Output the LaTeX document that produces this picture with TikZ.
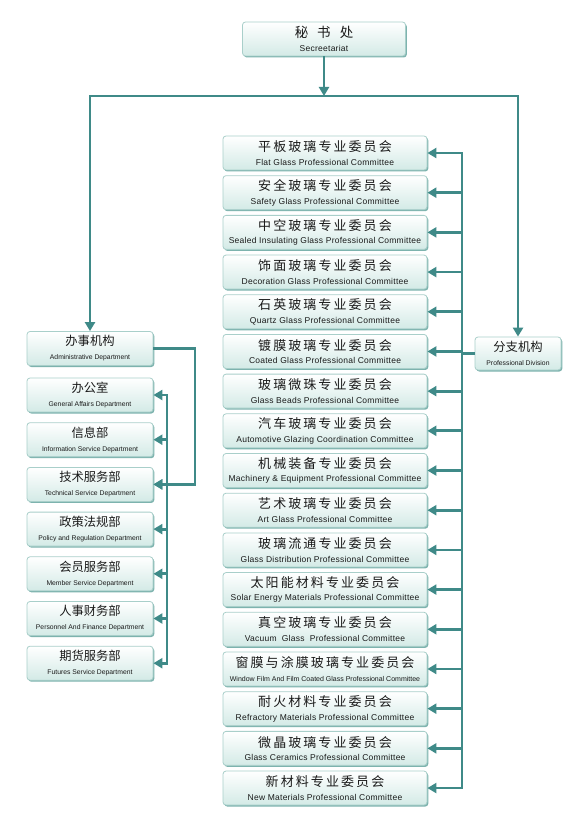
\documentclass[tikz,border=0pt]{standalone}
\usepackage{fontspec}
\setmainfont{Liberation Sans}
\newfontfamily\ensp[LetterSpace=3]{Liberation Sans}
\newfontfamily\cjk{Noto Sans CJK SC}
\newfontfamily\cjksp[LetterSpace=16]{Noto Sans CJK SC}
\usetikzlibrary{arrows.meta,shadows}
\definecolor{linec}{HTML}{3F8A88}
\definecolor{boxline}{HTML}{A9CFCA}
\definecolor{boxbot}{HTML}{D3EAE6}
\definecolor{boxshadow}{HTML}{7DB3AE}
\definecolor{txt}{HTML}{1A1A1A}
\newcommand\comtext[2]{{\cjksp\fontsize{13}{13}\selectfont #1}\\[1.5pt]{\ensp\fontsize{8.5}{9}\selectfont #2}}
\newcommand\deptext[2]{{\cjk\fontsize{12.3}{12}\selectfont #1}\\[2pt]{\fontsize{6.8}{7}\selectfont #2}}
\tikzset{
  box/.style={draw=boxline, line width=0.8pt, rounded corners=3pt, top color=white, bottom color=boxbot,
    inner sep=0pt, align=center, text=txt,
    drop shadow={shadow xshift=1.3pt, shadow yshift=-1.5pt, fill=boxshadow, opacity=1}},
  comm/.style={box, minimum width=204pt, minimum height=34pt},
  dept/.style={box, minimum width=126pt, minimum height=34pt},
  conn/.style={draw=linec, line width=2.8pt},
  arr/.style={conn, -{Triangle[length=9pt,width=10pt]}},
}
\begin{document}
\begin{tikzpicture}[x=1pt,y=-1pt]
\fill[white] (0,0) rectangle (584,826);
\useasboundingbox (0,0) rectangle (584,826);

% top
\node[box, minimum width=163pt, minimum height=34pt] (sec) at (324,39)
  {{\cjk\fontsize{13.5}{13}\selectfont 秘\hspace{9pt}书\hspace{9pt}处}\\[2pt]{\ensp\fontsize{8.5}{8}\selectfont Secreetariat}};
\coordinate (hl) at (90,96);
\coordinate (hr) at (518,96);

% left column
\node[dept] (adm) at (90,348.5) {\deptext{办事机构}{Administrative Department}};
\node[dept] (d1) at (90,395) {\deptext{办公室}{General Affairs Department}};
\node[dept] (d2) at (90,439.7) {\deptext{信息部}{Information Service Department}};
\node[dept] (d3) at (90,484.4) {\deptext{技术服务部}{Technical Service Department}};
\node[dept] (d4) at (90,529.1) {\deptext{政策法规部}{Policy and Regulation Department}};
\node[dept] (d5) at (90,573.8) {\deptext{会员服务部}{Member Service Department}};
\node[dept] (d6) at (90,618.5) {\deptext{人事财务部}{Personnel And Finance Department}};
\node[dept] (d7) at (90,663.2) {\deptext{期货服务部}{Futures Service Department}};

% professional division
\node[box, minimum width=86pt, minimum height=33pt] (pd) at (518,353.5) {\deptext{分支机构}{Professional Division}};

% committees
\foreach \cn/\en [count=\i from 0] in {
  平板玻璃专业委员会/Flat Glass Professional Committee,
  安全玻璃专业委员会/Safety Glass Professional Committee,
  中空玻璃专业委员会/Sealed Insulating Glass Professional Committee,
  饰面玻璃专业委员会/Decoration Glass Professional Committee,
  石英玻璃专业委员会/Quartz Glass Professional Committee,
  镀膜玻璃专业委员会/Coated Glass Professional Committee,
  玻璃微珠专业委员会/Glass Beads Professional Committee,
  汽车玻璃专业委员会/Automotive Glazing Coordination Committee,
  机械装备专业委员会/Machinery \& Equipment Professional Committee,
  艺术玻璃专业委员会/Art Glass Professional Committee,
  玻璃流通专业委员会/Glass Distribution Professional Committee,
  太阳能材料专业委员会/Solar Energy Materials Professional Committee,
  真空玻璃专业委员会/Vacuum\ \ Glass\ \ Professional Committee,
  窗膜与涂膜玻璃专业委员会/{\rmfamily\fontsize{7}{8}\selectfont Window Film And Film Coated Glass Professional Committee},
  耐火材料专业委员会/Refractory Materials Professional Committee,
  微晶玻璃专业委员会/Glass Ceramics Professional Committee,
  新材料专业委员会/New Materials Professional Committee}
{
  \node[comm] (c\i) at (325,153+\i*39.69) {\comtext{\cn}{\en}};
}

% connectors
\coordinate (rt) at (462,0);
\coordinate (lb) at (167,0);
\coordinate (ac) at (195,348.5);

\draw[conn, line cap=rect] (hl) -- (hr);
\draw[arr] (sec.south) -- (sec.south |- hl);
\draw[arr] (hl) -- (adm.north);
\draw[arr] (hr) -- (pd.north);

% right bus
\draw[conn, line cap=rect] (c0.east -| rt) -- (c16.east -| rt);
\draw[conn] (pd.west) -- (pd.west -| rt);
\foreach \i in {0,...,16} {
  \draw[arr] (c\i.east -| rt) -- (c\i.east);
}

% left bus
\draw[arr] (adm.east) -- (ac) |- (d3.east);
\draw[conn, line cap=rect] (d1.east -| lb) -- (d7.east -| lb);
\foreach \i in {1,...,7} {
  \draw[arr] (d\i.east -| lb) -- (d\i.east);
}
\end{tikzpicture}
\end{document}
